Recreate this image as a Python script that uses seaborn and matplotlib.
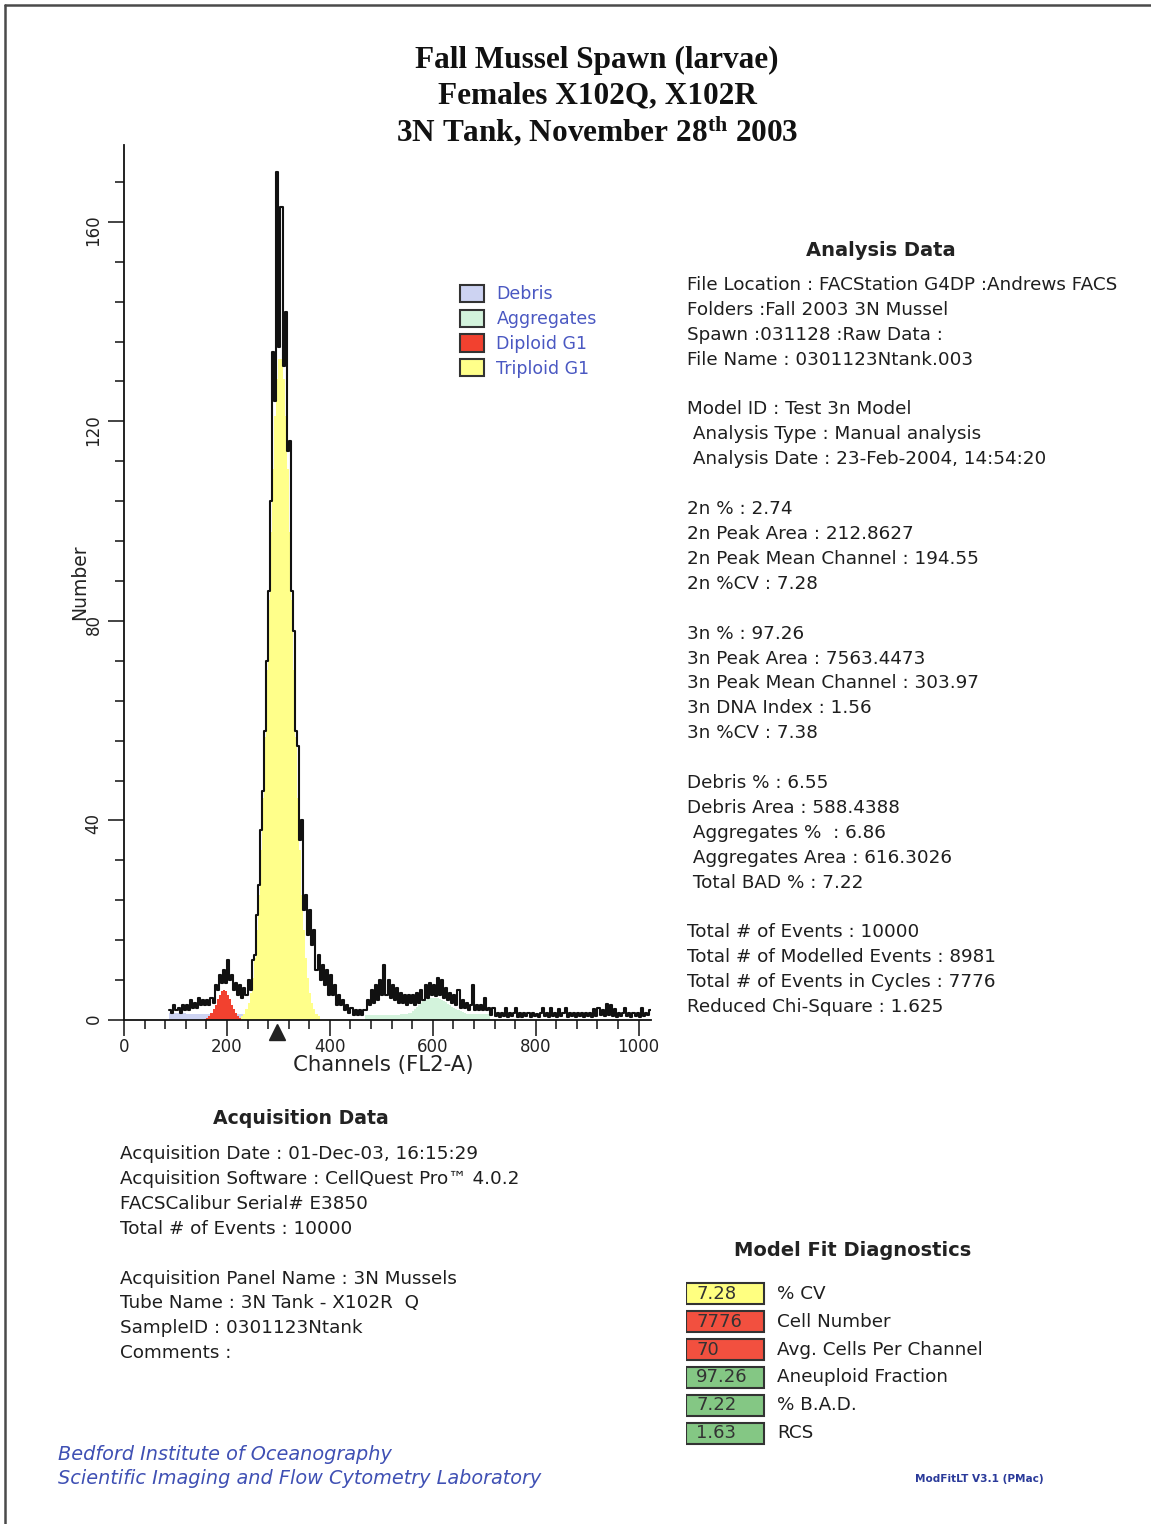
import numpy as np
import pandas as pd
import matplotlib
matplotlib.use("Agg")
import matplotlib.pyplot as plt
from matplotlib.patches import Patch
from matplotlib.lines import Line2D
from matplotlib.ticker import MultipleLocator
import seaborn as sns

W, H, DPI = 1151, 1524, 100
BIN = 4  # channels per histogram bin

# ---- raw DNA content histogram (counts per 4-channel bin), each run with its first channel
raw_low_start = 88
raw_low = [2, 1.5, 3, 2, 2.5, 1.5, 3, 2, 3, 2, 4, 2.5, 3.5, 2.5, 4.5, 3, 4, 3, 4, 3,
           4.5, 3.5, 7, 6, 9, 7.5, 10, 7.5, 12, 8, 9, 6, 7.5, 5, 7, 4.5, 6.5, 5]
raw_peak_start = 240
raw_peak = [8, 6, 12, 13, 21, 27, 38, 46, 58, 72, 86, 104, 134, 124, 170, 135, 163, 131,
            142, 114, 116, 86, 78, 58, 55, 36, 40, 22, 25, 17, 22, 15, 18, 10, 13, 8, 11,
            7, 10, 5, 9, 5, 7, 3, 5, 3, 4, 2, 3, 1.5, 2.5, 1, 2, 1, 2, 1, 2]
raw_mid_start = 468
raw_mid = [2, 4, 3, 6, 3.5, 7, 4, 8, 5, 11, 5, 8, 4.5, 7, 4, 6.5, 3.5, 5.5, 3.5, 5,
           3, 5, 3.5, 5, 3, 5.5, 3.5, 6, 4, 7, 4.5, 7.5, 5, 7, 4.8, 8.5, 5, 8, 4.5, 6.5,
           4, 5.5, 3.5, 5, 3, 6, 2.5, 4, 2.5, 3.5, 2, 3, 7, 2, 3, 2, 3, 2, 4.5, 2, 2.5, 1]
raw_tail_start = 716
raw_tail = [2.5, 0.8, 1.5, 0.6, 1.4, 0.8, 2.5, 0.7, 1.5, 0.8,
            1.4, 2.5, 0.7, 1.4, 0.6, 1.5, 0.8, 1.4, 0.6, 1.5,
            0.8, 1.3, 0.7, 1.5, 2.5, 0.8, 1.4, 0.6, 2.5, 0.8,
            1.5, 0.7, 2.2, 0.8, 1.4, 2.5, 0.7, 1.5, 0.8, 1.4,
            0.6, 1.5, 0.8, 1.4, 0.7, 1.5, 0.8, 1.4, 0.7, 2.2,
            0.8, 2.5, 1.0, 2.0, 0.8, 3.2, 1.0, 3.0, 0.8, 2.2,
            0.7, 1.5, 0.8, 1.4, 2.5, 0.8, 1.5, 0.7, 1.4, 0.8,
            1.5, 0.7, 2.5, 0.8, 1.5, 1.0, 2.0]

# ---- fitted model components (counts per 4-channel bin)
debris_start = 88
debris = [1.4, 1.4, 1.4, 1.4, 1.4, 1.4, 1.4, 1.4,
          1.3, 1.3, 1.3, 1.3, 1.3, 1.3, 1.3, 1.3, 1.3, 1.3,
          1.3, 1.3, 1.3, 1.3, 1.3, 1.3, 1.3, 1.3, 1.3, 1.3,
          1.2, 1.2, 1.2, 1.2, 1.2, 1.2, 1.2, 1.2, 1.2, 1.2]
aggregates_start = 468
aggregates = [1.0, 1.0, 1.0, 1.1, 1.1, 1.1, 1.1, 1.1, 1.1, 1.1, 1.1, 1.1,
              1.1, 1.1, 1.1, 1.1, 1.1, 1.2, 1.2, 1.2, 1.3, 1.4, 1.5,
              1.8, 2.2, 2.7, 3.1, 3.5, 3.8, 4.1, 4.3, 4.4, 4.5, 4.5, 4.5, 4.4,
              4.3, 4.1, 3.9, 3.6, 3.3, 3.0, 2.7, 2.4, 2.2, 2.0, 1.8, 1.6, 1.4, 1.3,
              1.2, 1.2, 1.2, 1.2, 1.2, 1.2, 1.2, 1.2, 1.2, 1.2, 1.2]
diploid_start = 156
diploid = [0.2, 0.4, 0.8, 1.4, 2.2, 3.1, 4.2, 5.1, 5.8, 6.0, 5.8, 5.1, 4.2, 3.1,
           2.2, 1.4, 0.8, 0.4, 0.2]
triploid_start = 228
triploid = [0.8, 1.3, 2.2, 3.5, 5.5, 8.4, 12.5, 18.0, 25.1, 34.0, 44.6, 56.8, 70.2,
            84.2, 97.9, 110.5, 121.0, 128.5, 132.5, 132.5, 128.5, 121.0, 110.5, 97.9,
            84.2, 70.2, 56.8, 44.6, 34.0, 25.1, 18.0, 12.5, 8.4, 5.5, 3.5, 2.2, 1.3, 0.8]

component_names = ["Debris", "Aggregates", "Diploid G1", "Triploid G1"]
component_colors = ["#cdd3f2", "#d3f3dc", "#f2412f", "#ffff8a"]
marker_channel = 298

x_ticks = [0, 200, 400, 600, 800, 1000]
y_ticks = [0, 40, 80, 120, 160]

title_lines = ["Fall Mussel Spawn (larvae)", "Females X102Q, X102R",
               "3N Tank, November 28$^{\\rm th}$ 2003"]

analysis_lines = [
    "File Location : FACStation G4DP :Andrews FACS",
    "Folders :Fall 2003 3N Mussel",
    "Spawn :031128 :Raw Data :",
    "File Name : 0301123Ntank.003",
    None,
    "Model ID : Test 3n Model",
    " Analysis Type : Manual analysis",
    " Analysis Date : 23-Feb-2004, 14:54:20",
    None,
    "2n % : 2.74",
    "2n Peak Area : 212.8627",
    "2n Peak Mean Channel : 194.55",
    "2n %CV : 7.28",
    None,
    "3n % : 97.26",
    "3n Peak Area : 7563.4473",
    "3n Peak Mean Channel : 303.97",
    "3n DNA Index : 1.56",
    "3n %CV : 7.38",
    None,
    "Debris % : 6.55",
    "Debris Area : 588.4388",
    " Aggregates %  : 6.86",
    " Aggregates Area : 616.3026",
    " Total BAD % : 7.22",
    None,
    "Total # of Events : 10000",
    "Total # of Modelled Events : 8981",
    "Total # of Events in Cycles : 7776",
    "Reduced Chi-Square : 1.625",
]

acquisition_lines = [
    "Acquisition Date : 01-Dec-03, 16:15:29",
    "Acquisition Software : CellQuest Pro\u2122 4.0.2",
    "FACSCalibur Serial# E3850",
    "Total # of Events : 10000",
    None,
    "Acquisition Panel Name : 3N Mussels",
    "Tube Name : 3N Tank - X102R  Q",
    "SampleID : 0301123Ntank",
    "Comments :",
]

diag_values = ["7.28", "7776", "70", "97.26", "7.22", "1.63"]
diag_labels = ["% CV", "Cell Number", "Avg. Cells Per Channel",
               "Aneuploid Fraction", "% B.A.D.", "RCS"]
diag_colors = ["#ffff80", "#f2503f", "#f2503f", "#84c784", "#84c784", "#84c784"]

# ---------------------------------------------------------------------------
sns.set_theme(style="white")
plt.rcParams["font.family"] = ["DejaVu Sans"]
plt.rcParams["mathtext.fontset"] = "custom"
plt.rcParams["mathtext.rm"] = "Liberation Serif:bold"
plt.rcParams["mathtext.bf"] = "Liberation Serif:bold"
plt.rcParams["mathtext.it"] = "Liberation Serif:bold:italic"

fig = plt.figure(figsize=(W / DPI, H / DPI), dpi=DPI)
fig.patch.set_facecolor("white")


def fx(px):
    return px / W


def fy(py):
    return 1 - py / H


def ftext(px, py, s, **kw):
    return fig.text(fx(px), fy(py), s, **kw)


# page frame
fig.add_artist(Line2D([fx(5), 1], [fy(5), fy(5)], transform=fig.transFigure,
                      color="#4a4a4a", lw=1.8))
fig.add_artist(Line2D([fx(5), fx(5)], [0, fy(5)], transform=fig.transFigure,
                      color="#4a4a4a", lw=1.8))

# title
for i, line in enumerate(title_lines):
    ftext(597, 60 + 36 * i, line, ha="center", va="center",
          family="Liberation Serif", weight="bold", fontsize=22.5, color="#111111")

# ---- histogram axes
ax = fig.add_axes([fx(124), fy(1020), fx(651) - fx(124), fy(145) - fy(1020)])
ax.set_facecolor("white")


def bin_frame(start, values):
    centers = start + BIN * np.arange(len(values)) + BIN / 2
    return pd.DataFrame({"channel": centers, "events": values})


# fitted components, each as a filled step histogram
layers = [(debris_start, debris, component_colors[0]),
          (aggregates_start, aggregates, component_colors[1]),
          (diploid_start, diploid, component_colors[2]),
          (triploid_start, triploid, component_colors[3])]
for z, (start, vals, color) in enumerate(layers):
    sns.histplot(data=bin_frame(start, vals), x="channel", weights="events",
                 binwidth=BIN, binrange=(start, start + BIN * len(vals)),
                 element="step", fill=True, color=color, alpha=1,
                 linewidth=0, edgecolor="none", ax=ax, zorder=1 + 0.1 * z)

# measured histogram drawn as a black step outline on top
raw = pd.concat([bin_frame(s, v) for s, v in
                 [(raw_low_start, raw_low), (raw_peak_start, raw_peak),
                  (raw_mid_start, raw_mid), (raw_tail_start, raw_tail)]],
                ignore_index=True)
sns.histplot(data=raw, x="channel", weights="events",
             binwidth=BIN, binrange=(raw_low_start, 1024),
             element="step", fill=False, color="#111111", linewidth=1.5,
             ax=ax, zorder=3)

ax.plot([marker_channel], [-2.4], marker="^", ms=11, color="#222222",
        clip_on=False, zorder=5, linestyle="none")

ax.set_xlim(0, 1024)
ax.set_ylim(0, 175.4)
sns.despine(ax=ax)
for sp in ["left", "bottom"]:
    ax.spines[sp].set_linewidth(1.3)
    ax.spines[sp].set_color("#111111")
    ax.spines[sp].set_zorder(4)

ax.set_xticks(x_ticks)
ax.set_yticks(y_ticks)
ax.xaxis.set_minor_locator(MultipleLocator(40))
ax.yaxis.set_minor_locator(MultipleLocator(8))
ax.tick_params(which="major", direction="out", length=11.5, width=1.1,
               color="#111111", labelsize=12, labelcolor="#222222", pad=1.5)
ax.tick_params(which="minor", direction="out", length=6.5, width=1.1,
               color="#111111")
ax.tick_params(axis="y", labelrotation=90, pad=4)
ax.tick_params(bottom=True, left=True, which="both")

ax.set_xlabel("Channels (FL2-A)", fontsize=15.3, color="#222222", va="top")
ax.xaxis.set_label_coords((383 - 124) / 527, -(1055 - 1020) / 875)
ax.set_ylabel("Number", fontsize=13.5, color="#222222")
ax.yaxis.set_label_coords(-0.066, 0.5)

handles = [Patch(facecolor=c, edgecolor="#333333", linewidth=1.5)
           for c in component_colors]
leg = ax.legend(handles, component_names, loc="upper left",
                bbox_to_anchor=(fx(460), fy(285)), bbox_transform=fig.transFigure,
                frameon=False, fontsize=12.5, labelcolor="#4a58c2",
                handlelength=1.4, handleheight=1.15, handletextpad=0.7,
                labelspacing=0.36, borderpad=0, borderaxespad=0)

# ---- analysis data panel
ftext(881, 250, "Analysis Data", ha="center", va="center", fontsize=14,
      weight="bold", color="#222222")
for i, line in enumerate(analysis_lines):
    if line:
        ftext(687, 285 + 24.9 * i, line, ha="left", va="center", fontsize=13.2,
              color="#1e1e1e")

# ---- acquisition data panel
ftext(301, 1119, "Acquisition Data", ha="center", va="center", fontsize=13.6,
      weight="bold", color="#222222")
for i, line in enumerate(acquisition_lines):
    if line:
        ftext(120, 1154 + 24.9 * i, line, ha="left", va="center", fontsize=13.2,
              color="#1e1e1e")

# ---- model fit diagnostics
ftext(853, 1251, "Model Fit Diagnostics", ha="center", va="center", fontsize=14,
      weight="bold", color="#222222")
dax = fig.add_axes([fx(686), fy(1447), fx(1020) - fx(686), fy(1280) - fy(1447)])
dax.set_xlim(0, 334)
dax.set_ylim(len(diag_values) - 0.5, -0.5)
rows = np.arange(len(diag_values))
dax.barh(rows, [78] * len(rows), height=0.76, left=0, color=diag_colors,
         edgecolor="#333333", linewidth=1.5)
for r, v, lab in zip(rows, diag_values, diag_labels):
    dax.text(10, r, v, ha="left", va="center", fontsize=13, color="#333333")
    dax.text(91, r, lab, ha="left", va="center", fontsize=13.2, color="#1e1e1e")
dax.axis("off")

# ---- footer
ftext(58, 1455, "Bedford Institute of Oceanography", ha="left", va="center",
      fontsize=13.9, style="italic", color="#3f50b4")
ftext(58, 1478, "Scientific Imaging and Flow Cytometry Laboratory", ha="left",
      va="center", fontsize=13.9, style="italic", color="#3f50b4")
ftext(915, 1479, "ModFitLT V3.1 (PMac)", ha="left", va="center", fontsize=7.6,
      weight="bold", color="#2a3a9a")

fig.savefig("out.png", dpi=DPI, facecolor="white")
